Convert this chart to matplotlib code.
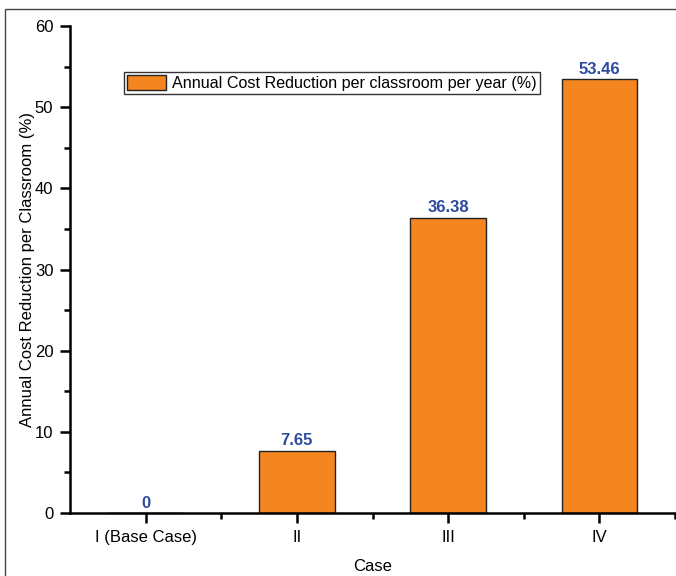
import matplotlib.pyplot as plt
from matplotlib.patches import Rectangle

cases = ['I (Base Case)', 'II', 'III', 'IV']
reduction = [0, 7.65, 36.38, 53.46]
value_labels = ['0', '7.65', '36.38', '53.46']

plt.rcParams['font.family'] = ['Liberation Sans', 'DejaVu Sans']

fig = plt.figure(figsize=(6.76, 5.76), dpi=100)
ax = fig.add_axes([70 / 676, 1 - 513 / 576, 605 / 676, 487 / 576])

# outer frame (cropped on right and bottom in the original)
fig.patches.append(Rectangle((5 / 676, -0.1), 1.2, 1 - 9 / 576 + 0.1,
                             transform=fig.transFigure, fill=False,
                             edgecolor='#444444', linewidth=1.0))

x = range(len(cases))
bars = ax.bar(x, reduction, width=0.5, color='#F5861F', edgecolor='#222222',
              linewidth=1.0, label='Annual Cost Reduction per classroom per year (%)')

for xi, v, lab in zip(x, reduction, value_labels):
    ax.text(xi, v + 0.3, lab, ha='center', va='bottom', color='#2E4A9E',
            fontsize=12, fontweight='bold')

ax.set_xlim(-0.5, 3.5)
ax.set_ylim(0, 60)
ax.set_xticks(list(x))
ax.set_xticklabels(cases)
ax.set_xticks([0.5, 1.5, 2.5, 3.5], minor=True)
ax.set_yticks(range(0, 61, 10))
ax.set_yticks(range(5, 60, 10), minor=True)

for side in ['top', 'right']:
    ax.spines[side].set_visible(False)
for side in ['left', 'bottom']:
    ax.spines[side].set_linewidth(1.8)

ax.tick_params(axis='both', which='major', direction='out', length=7, width=1.8,
               labelsize=12, pad=5)
ax.tick_params(axis='both', which='minor', direction='out', length=4, width=1.8)

ax.set_xlabel('Case', fontsize=12, labelpad=10)
ax.set_ylabel('Annual Cost Reduction per Classroom (%)', fontsize=12, labelpad=0)

ax.legend(loc='upper left', bbox_to_anchor=(124 / 676, 1 - 72 / 576),
          bbox_transform=fig.transFigure, fontsize=11.6, frameon=True,
          fancybox=False, edgecolor='#333333', framealpha=1,
          handlelength=2.4, handleheight=1.0, borderpad=0.2,
          handletextpad=0.4, borderaxespad=0)

fig.savefig('out.png', dpi=100)
